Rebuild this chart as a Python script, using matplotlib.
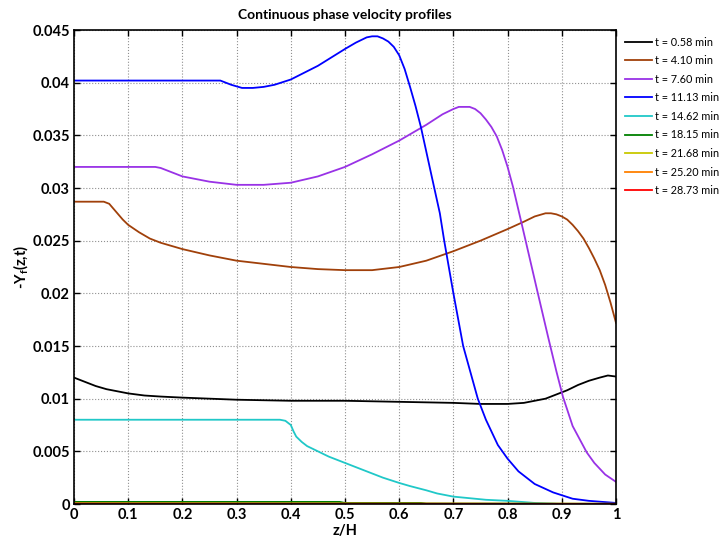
import numpy as np
import matplotlib
matplotlib.use('Agg')
import matplotlib.pyplot as plt

plt.rcParams['font.family'] = ['Lato', 'DejaVu Sans']
plt.rcParams['font.size'] = 10
plt.rcParams['mathtext.fontset'] = 'custom'
plt.rcParams['mathtext.rm'] = 'Lato:bold'
plt.rcParams['mathtext.it'] = 'Lato:bold'

# t = 0.58 min
z_a = [0, 0.02, 0.04, 0.06, 0.08, 0.1, 0.13, 0.16, 0.2, 0.3, 0.4, 0.5, 0.6, 0.7, 0.75, 0.8, 0.83, 0.85, 0.87, 0.89, 0.91, 0.93, 0.95, 0.97, 0.985, 1.0]
v_a = [0.0120, 0.0116, 0.0112, 0.0109, 0.0107, 0.0105, 0.0103, 0.0102, 0.0101, 0.0099, 0.0098, 0.0098, 0.0097, 0.0096, 0.0095, 0.0095, 0.0096, 0.0098, 0.0100, 0.0104, 0.0108, 0.0113, 0.0117, 0.0120, 0.0122, 0.0121]

# t = 4.10 min
z_b = [0, 0.03, 0.055, 0.065, 0.075, 0.09, 0.1, 0.12, 0.14, 0.16, 0.2, 0.25, 0.3, 0.35, 0.4, 0.45, 0.5, 0.55, 0.6, 0.65, 0.7, 0.75, 0.8, 0.83, 0.85, 0.87, 0.88, 0.89, 0.9, 0.91, 0.92, 0.93, 0.94, 0.95, 0.96, 0.97, 0.98, 0.99, 1.0]
v_b = [0.0287, 0.0287, 0.0287, 0.0285, 0.0279, 0.0270, 0.0265, 0.0258, 0.0252, 0.0248, 0.0242, 0.0236, 0.0231, 0.0228, 0.0225, 0.0223, 0.0222, 0.0222, 0.0225, 0.0231, 0.0240, 0.0250, 0.0261, 0.0268, 0.0273, 0.0276, 0.0276, 0.0275, 0.0273, 0.0270, 0.0265, 0.0259, 0.0252, 0.0243, 0.0233, 0.0222, 0.0208, 0.0191, 0.0172]

# t = 7.60 min
z_c = [0, 0.1, 0.15, 0.16, 0.17, 0.18, 0.2, 0.25, 0.3, 0.35, 0.4, 0.45, 0.5, 0.55, 0.6, 0.65, 0.68, 0.7, 0.71, 0.72, 0.73, 0.74, 0.75, 0.76, 0.77, 0.78, 0.79, 0.8, 0.81, 0.826, 0.84, 0.854, 0.875, 0.89, 0.902, 0.92, 0.946, 0.96, 0.98, 1.0]
v_c = [0.0320, 0.0320, 0.0320, 0.0319, 0.0317, 0.0315, 0.0311, 0.0306, 0.0303, 0.0303, 0.0305, 0.0311, 0.0320, 0.0332, 0.0345, 0.0360, 0.0370, 0.0375, 0.0377, 0.0377, 0.0377, 0.0375, 0.0371, 0.0365, 0.0358, 0.0349, 0.0336, 0.0320, 0.0301, 0.0266, 0.0235, 0.0204, 0.0158, 0.0126, 0.0102, 0.0074, 0.0049, 0.0039, 0.0028, 0.0021]

# t = 11.13 min
z_d = [0, 0.1, 0.2, 0.26, 0.27, 0.28, 0.29, 0.31, 0.33, 0.35, 0.37, 0.4, 0.45, 0.5, 0.52, 0.54, 0.55, 0.56, 0.57, 0.58, 0.59, 0.6, 0.61, 0.62, 0.63, 0.64, 0.66, 0.675, 0.683, 0.7, 0.718, 0.745, 0.76, 0.782, 0.8, 0.82, 0.85, 0.884, 0.92, 0.95, 1.0]
v_d = [0.0402, 0.0402, 0.0402, 0.0402, 0.0402, 0.0400, 0.0398, 0.0395, 0.0395, 0.0396, 0.0398, 0.0403, 0.0416, 0.0432, 0.0438, 0.0443, 0.0444, 0.0444, 0.0442, 0.0439, 0.0434, 0.0426, 0.0413, 0.0396, 0.0378, 0.0358, 0.0311, 0.0276, 0.0250, 0.0200, 0.0150, 0.0100, 0.0080, 0.0056, 0.0043, 0.0031, 0.0019, 0.0011, 0.0005, 0.0003, 0.0001]

# t = 14.62 min
z_e = [0, 0.1, 0.2, 0.3, 0.38, 0.39, 0.40, 0.405, 0.41, 0.42, 0.43, 0.45, 0.47, 0.5, 0.52, 0.55, 0.57, 0.6, 0.62, 0.65, 0.67, 0.7, 0.72, 0.76, 0.8, 0.85, 0.9, 1.0]
v_e = [0.0080, 0.0080, 0.0080, 0.0080, 0.0080, 0.0079, 0.0075, 0.0069, 0.0064, 0.0059, 0.0055, 0.0050, 0.0045, 0.0039, 0.0035, 0.0029, 0.0025, 0.0020, 0.0017, 0.0013, 0.0010, 0.0007, 0.0006, 0.0004, 0.0003, 0.0001, 0.0000, 0.0000]

# later times, practically zero
z_f = [0, 0.49, 0.5, 0.64, 0.65, 1.0]
v_f = [0.0002, 0.0002, 0.0001, 0.0001, 0.00005, 0.00002]
z_g = [0, 1.0]
v_g = [0.00005, 0.00002]
z_h = [0, 1.0]
v_h = [0.00004, 0.00002]
z_i = [0, 1.0]
v_i = [0.00003, 0.00001]

labels = ['t = 0.58 min', 't = 4.10 min', 't = 7.60 min', 't = 11.13 min', 't = 14.62 min',
          't = 18.15 min', 't = 21.68 min', 't = 25.20 min', 't = 28.73 min']
colors = ['#000000', '#a0400a', '#9932e6', '#0000ff', '#20c8c8',
          '#008000', '#c8c800', '#ff8000', '#ff0000']
series = [(z_a, v_a), (z_b, v_b), (z_c, v_c), (z_d, v_d), (z_e, v_e),
          (z_f, v_f), (z_g, v_g), (z_h, v_h), (z_i, v_i)]

fig = plt.figure(figsize=(7.26, 5.42), dpi=100)
ax = fig.add_axes([74 / 726, 38 / 542, 542 / 726, 474 / 542])

for (z, v), c, lab in zip(series, colors, labels):
    ax.plot(z, v, color=c, lw=1.3, label=lab)

ax.set_xlim(0, 1)
ax.set_ylim(0, 0.045)
ax.set_xticks(np.arange(0, 1.01, 0.1))
ax.set_xticklabels(['0', '0.1', '0.2', '0.3', '0.4', '0.5', '0.6', '0.7', '0.8', '0.9', '1'])
ax.set_yticks(np.arange(0, 0.0451, 0.005))
ax.set_yticklabels(['0', '0.005', '0.01', '0.015', '0.02', '0.025', '0.03', '0.035', '0.04', '0.045'])
ax.grid(True, linestyle=':', color='#909090', lw=0.8)
ax.tick_params(direction='in', top=True, right=True, length=4, width=1, pad=3)
for lab in ax.get_xticklabels() + ax.get_yticklabels():
    lab.set_fontweight('bold')
    lab.set_fontsize(10.5)
for s in ax.spines.values():
    s.set_linewidth(1.2)

ax.set_xlabel('z/H', fontweight='bold', fontsize=10.5, labelpad=1)
ax.set_ylabel(r'-$\Upsilon_f$(z,t)', fontweight='bold', fontsize=10.5, labelpad=2)
ax.set_title('Continuous phase velocity profiles', fontweight='bold', fontsize=10, pad=8)

ax.legend(loc='upper left', bbox_to_anchor=(1.005, 1.0), frameon=False, fontsize=7.8,
          handlelength=2.5, handletextpad=0.25, labelspacing=0.7, borderaxespad=0.2)

plt.savefig('out.png', dpi=100)
